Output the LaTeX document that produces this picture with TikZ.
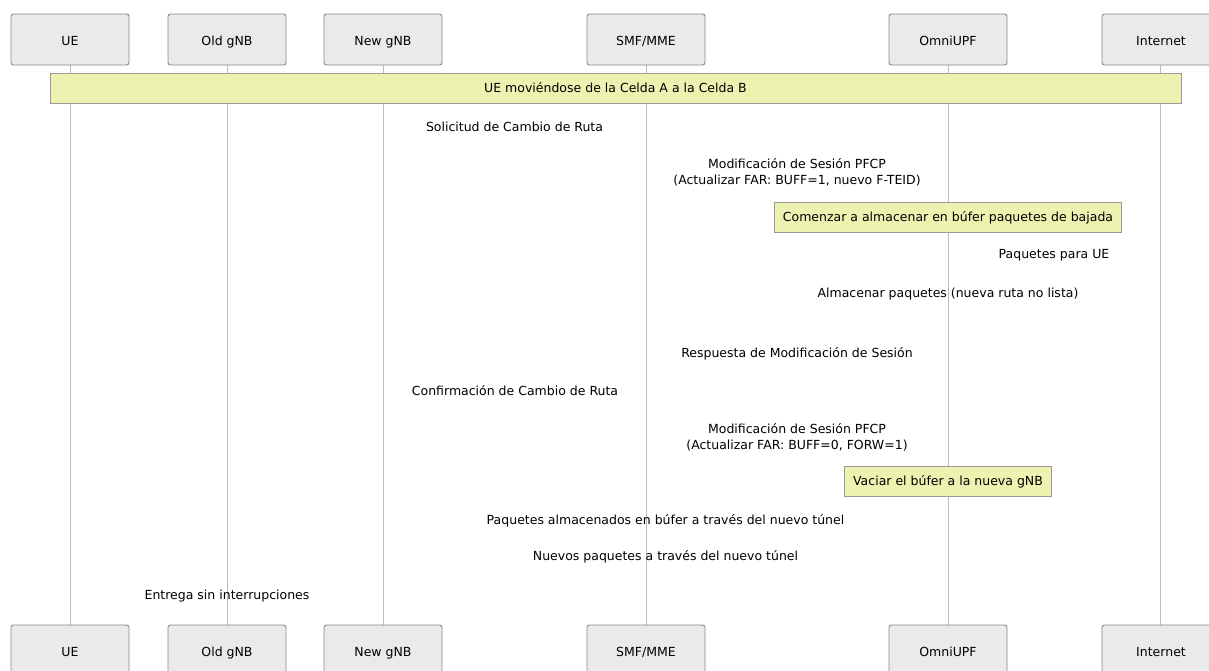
\documentclass[tikz,border=0pt]{standalone}
\usepackage{fontspec}
\setmainfont{DejaVu Sans}
\usepackage{tikz}
\usetikzlibrary{positioning}
\definecolor{actorfill}{HTML}{EAEAEA}
\definecolor{actorline}{HTML}{888888}
\definecolor{lifeline}{HTML}{BBBBBB}
\definecolor{notefill}{HTML}{EEF2B0}
\definecolor{noteline}{HTML}{9A9A9A}

\begin{document}
\begin{tikzpicture}[x=1pt, y=-1pt,
    every node/.style={font=\fontsize{12.5}{16}\selectfont, inner sep=0pt},
    actor/.style={draw=actorline, fill=actorfill, rounded corners=2.5pt,
        minimum width=118pt, minimum height=51pt, line width=0.9pt,
        text height=14.2pt, text depth=2.6pt},
    life/.style={draw=lifeline, line width=1pt},
    note/.style={draw=noteline, fill=notefill, line width=0.9pt,
        minimum height=30pt, inner xsep=8.5pt, text height=11pt, text depth=2.6pt},
    msg/.style={align=center}]
    \useasboundingbox (0,0) rectangle (1209,670);
    \clip (0,0) rectangle (1209,670);

    % lifelines first, boxes on top
    \foreach \n/\x in {ue/70, old/227, new/383, smf/646, upf/948, inet/1160}
        \draw[life] (\x,65) -- (\x,625);

    \node[actor] (ue top)   at (70,39.5)   {UE};
    \node[actor] (old top)  at (227,39.5)  {Old gNB};
    \node[actor] (new top)  at (383,39.5)  {New gNB};
    \node[actor] (smf top)  at (646,39.5)  {SMF/MME};
    \node[actor] (upf top)  at (948,39.5)  {OmniUPF};
    \node[actor] (inet top) at (1161,39.5) {Internet};

    \node[actor] (ue bot)   at (70,650.5)   {UE};
    \node[actor] (old bot)  at (227,650.5)  {Old gNB};
    \node[actor] (new bot)  at (383,650.5)  {New gNB};
    \node[actor] (smf bot)  at (646,650.5)  {SMF/MME};
    \node[actor] (upf bot)  at (948,650.5)  {OmniUPF};
    \node[actor] (inet bot) at (1161,650.5) {Internet};

    % notes
    \node[note, minimum width=1131pt] (move) at (615.5,88) {UE moviéndose de la Celda A a la Celda B};
    \node[note] (buffer) at (948,217) {Comenzar a almacenar en búfer paquetes de bajada};
    \node[note] (flush) at (948,481.5) {Vaciar el búfer a la nueva gNB};

    % message labels
    \node[msg] (switch req) at (514.5,127) {Solicitud de Cambio de Ruta};
    \node[msg] (mod req) at (797,172) {Modificación de Sesión PFCP\\(Actualizar FAR: BUFF=1, nuevo F-TEID)};
    \node[msg] (dl pkts) at (1054,255) {Paquetes para UE};
    \node[msg] (store) at (948,294) {Almacenar paquetes (nueva ruta no lista)};
    \node[msg] (mod resp) at (797,354) {Respuesta de Modificación de Sesión};
    \node[msg] (switch ack) at (515,391) {Confirmación de Cambio de Ruta};
    \node[msg] (mod req2) at (797,437.5) {Modificación de Sesión PFCP\\(Actualizar FAR: BUFF=0, FORW=1)};
    \node[msg] (buffered) at (665.5,521) {Paquetes almacenados en búfer a través del nuevo túnel};
    \node[msg] (new pkts) at (665.5,557) {Nuevos paquetes a través del nuevo túnel};
    \node[msg] (seamless) at (227,596) {Entrega sin interrupciones};
\end{tikzpicture}
\end{document}
